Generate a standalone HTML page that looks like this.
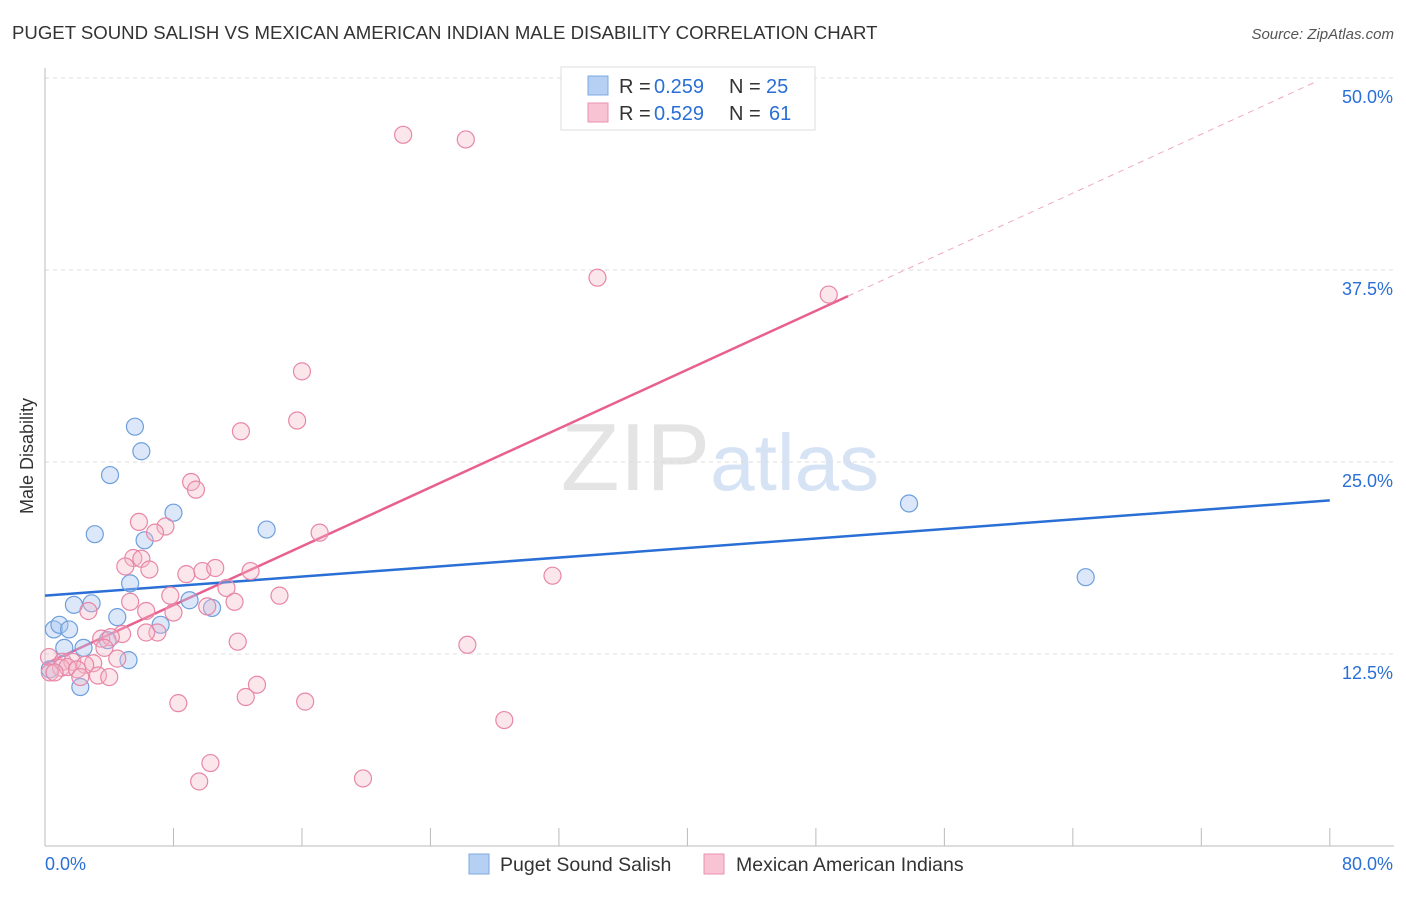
<!DOCTYPE html>
<html><head><meta charset="utf-8"><style>
body{margin:0;background:#fff;font-family:"Liberation Sans",sans-serif;}
svg text{font-family:"Liberation Sans",sans-serif;}
</style></head><body>
<svg id="chart" width="1406" height="892" xmlns="http://www.w3.org/2000/svg">
<text x="12" y="39" font-size="18.6" fill="#333">PUGET SOUND SALISH VS MEXICAN AMERICAN INDIAN MALE DISABILITY CORRELATION CHART</text>
<text x="1394" y="39" font-size="15" fill="#555" text-anchor="end" font-style="italic">Source: ZipAtlas.com</text>
<text x="720" y="490" font-size="96" fill="#e4e4e4" text-anchor="middle" font-family="Liberation Serif">ZIP<tspan fill="#d5e3f5" font-family="Liberation Sans" font-size="80">atlas</tspan></text>
<text transform="translate(33,456) rotate(-90)" font-size="18" fill="#333" text-anchor="middle">Male Disability</text>
<g id="grid"></g><g id="axes"></g><g id="lines"></g><g id="pts"></g>
<g>
<rect x="561" y="67" width="254" height="63" fill="#fff" stroke="#ddd"/>
<rect x="588" y="76" width="20" height="19" fill="#b5d0f3" stroke="#7fa8e0"/>
<rect x="588" y="103" width="20" height="19" fill="#f8c3d3" stroke="#ea91ae"/>
<text x="619" y="93" font-size="20" fill="#333">R =</text>
<text x="654" y="93" font-size="20" fill="#2a6fd6">0.259</text>
<text x="729" y="93" font-size="20" fill="#333">N =</text>
<text x="766" y="93" font-size="20" fill="#2a6fd6">25</text>
<text x="619" y="120" font-size="20" fill="#333">R =</text>
<text x="654" y="120" font-size="20" fill="#2a6fd6">0.529</text>
<text x="729" y="120" font-size="20" fill="#333">N =</text>
<text x="769" y="120" font-size="20" fill="#2a6fd6">61</text>
</g>
<g>
<rect x="469" y="854" width="20" height="20" fill="#b5d0f3" stroke="#7fa8e0"/>
<text x="500" y="871" font-size="19.5" fill="#333">Puget Sound Salish</text>
<rect x="704" y="854" width="20" height="20" fill="#f8c3d3" stroke="#ea91ae"/>
<text x="736" y="871" font-size="19.5" fill="#333">Mexican American Indians</text>
</g>
</svg>
<script>
const blueX=[5.6,6.0,4.05,3.1,8.0,13.8,6.2,5.3,1.8,2.9,9.0,10.4,4.5,0.55,0.9,1.5,7.2,2.4,1.2,3.9,5.2,2.2,53.8,64.8,0.3];
const blueY=[27.3,25.7,24.15,20.3,21.7,20.6,19.9,17.1,15.7,15.8,16.0,15.5,14.9,14.1,14.4,14.1,14.4,12.9,12.9,13.4,12.1,10.35,22.3,17.5,11.5];
const pinkX=[22.3,26.2,34.4,48.8,16.0,15.7,12.2,9.1,9.4,5.85,7.5,6.85,17.1,5.5,6.0,5.0,6.5,8.8,9.8,10.6,12.8,31.6,11.3,7.8,14.6,5.3,11.8,2.7,6.3,8.0,10.1,7.0,6.3,4.8,3.5,4.1,12.0,26.3,3.7,4.5,0.25,3.0,1.1,1.7,2.5,1.0,1.4,2.0,0.3,3.3,4.0,2.2,13.2,12.5,16.2,8.3,28.6,10.3,9.6,19.8,0.6];
const pinkY=[46.3,46.0,37.0,35.9,30.9,27.7,27.0,23.7,23.2,21.1,20.8,20.4,20.4,18.75,18.7,18.2,18.0,17.7,17.9,18.1,17.9,17.6,16.8,16.3,16.3,15.9,15.9,15.3,15.3,15.2,15.6,13.9,13.9,13.8,13.5,13.6,13.3,13.1,12.9,12.2,12.3,11.9,12.0,12.0,11.8,11.6,11.65,11.5,11.3,11.1,11.0,11.0,10.5,9.7,9.4,9.3,8.2,5.4,4.2,4.4,11.3];
const yTicks=[12.5,25.0,37.5,50.0];
const blueFit=[16.3,22.5];
const pinkFit=[11.85,0.479];
const NS="http://www.w3.org/2000/svg";
const sx=v=>45+v*16.06, sy=v=>846-v*15.36;
function mk(tag,attrs,parent){const e=document.createElementNS(NS,tag);for(const k in attrs)e.setAttribute(k,attrs[k]);parent.appendChild(e);return e;}
const grid=document.getElementById('grid'),axes=document.getElementById('axes'),lines=document.getElementById('lines'),pts=document.getElementById('pts');
yTicks.forEach(t=>{
 const l=mk('line',{x1:45,x2:1394,y1:sy(t),y2:sy(t),stroke:'#ddd','stroke-dasharray':'4,4'},grid);
 
 
 const tx=mk('text',{x:1393,y:sy(t)+25,'font-size':18,fill:'#2a6fd6','text-anchor':'end'},axes);
 tx.textContent=t.toFixed(1)+'%';
 
 
});
mk('line',{x1:45,x2:45,y1:68,y2:846,stroke:'#bbb'},axes);
mk('line',{x1:45,x2:1394,y1:846,y2:846,stroke:'#bbb'},axes);
for(let i=0;i<=10;i++){const t=mk('line',{x1:sx(i*8),x2:sx(i*8),y1:828,y2:846,stroke:'#bbb'},axes);
 
 }
const x0=mk('text',{x:45,y:870,'font-size':18,fill:'#2a6fd6'},axes);x0.textContent='0.0%';


const x1=mk('text',{x:1393,y:870,'font-size':18,fill:'#2a6fd6','text-anchor':'end'},axes);x1.textContent='80.0%';


const pAt=x=>pinkFit[0]+pinkFit[1]*x;
const pd=mk('line',{x1:sx(50),y1:sy(pAt(50)),x2:sx(79),y2:sy(pAt(79)),stroke:'#eeaac0','stroke-dasharray':'6,5','stroke-width':1},lines);


const pl=mk('line',{x1:sx(0),y1:sy(pAt(0)),x2:sx(50),y2:sy(pAt(50)),stroke:'#e8608f','stroke-width':2.5},lines);


const bl=mk('line',{x1:sx(0),y1:sy(blueFit[0]),x2:sx(80),y2:sy(blueFit[1]),stroke:'#2a6fd6','stroke-width':2.5},lines);


blueX.forEach((x,i)=>{const c=mk('circle',{cx:sx(x),cy:sy(blueY[i]),r:8.5,fill:'rgba(167,198,239,0.4)',stroke:'#6e9fdc','stroke-width':1.2},pts);
 
 });
pinkX.forEach((x,i)=>{const c=mk('circle',{cx:sx(x),cy:sy(pinkY[i]),r:8.5,fill:'rgba(244,182,201,0.35)',stroke:'#e887a7','stroke-width':1.2},pts);
 
 });
</script>
</body></html>
